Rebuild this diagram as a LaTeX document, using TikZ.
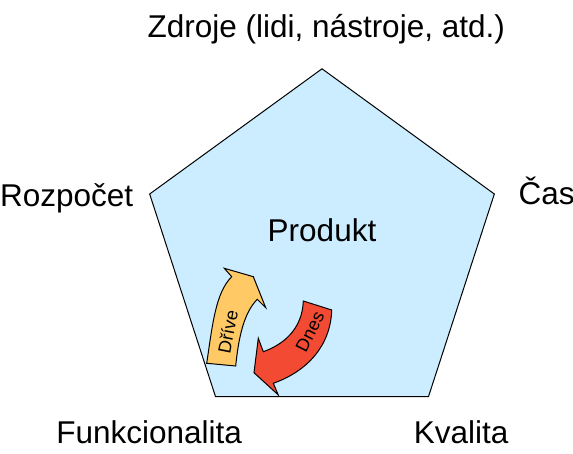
\documentclass[tikz,border=0pt]{standalone}
\usepackage{fontspec}
\setmainfont{Liberation Sans}
\usetikzlibrary{positioning, shapes.geometric}

\definecolor{pentblue}{RGB}{204,236,255}
\definecolor{earlyorange}{RGB}{255,201,102}
\definecolor{nowred}{RGB}{243,75,51}

\begin{document}
\begin{tikzpicture}[x=0.5pt, y=0.5pt,
  lbl/.style={inner sep=0pt, font=\fontsize{15.75}{18}\selectfont},
  arrowtext/.style={inner sep=0pt, font=\fontsize{9}{11}\selectfont}]
\useasboundingbox (0,0) rectangle (573,454);

\node (pent) [draw, line width=0.5pt, fill=pentblue, regular polygon, regular polygon sides=5, minimum size=181.2pt, inner sep=0pt, outer sep=0pt] at (322,204) {};

\node (zdroje) [lbl, above=15.75pt of pent.corner 1, xshift=2.15pt, anchor=base] {Zdroje (lidi, nástroje, atd.)};
\node (rozpocet) [lbl, left=8pt of pent.corner 2, yshift=-6.5pt, anchor=base east] {Rozpočet};
\node (cas) [lbl, right=12pt of pent.corner 5, yshift=-5.5pt, anchor=base west] {Čas};
\node (funkce) [lbl, below=23.5pt of pent.corner 3, xshift=-33.15pt, anchor=base] {Funkcionalita};
\node (kvalita) [lbl, below=23.5pt of pent.corner 4, xshift=16.35pt, anchor=base] {Kvalita};
\node (produkt) [lbl, above=4pt of pent.center, anchor=base] {Produkt};

% Drive arrow
\filldraw[line width=0.5pt, fill=earlyorange] (206.7,90.7) .. controls (212.7,130.7) and (215.7,161.3) .. (231.7,177.3)
  -- (224.3,185.7) -- (253.3,177.3) -- (265.7,146.3) -- (257.3,154.7)
  .. controls (244.3,141.7) and (238.7,118) .. (235.7,88) -- cycle;
\node (drive) [arrowtext, rotate=79] at (227.7,122.3) {Dříve};

% Dnes arrow
\filldraw[line width=0.5pt, fill=nowred] (303.3,153) .. controls (302.3,124) and (282.3,109) .. (263.3,102.3)
  -- (258.3,115.7) -- (254,81.3) -- (278.3,59) -- (273.3,70.7)
  .. controls (308,83) and (330.7,109) .. (331.7,144) -- cycle;
\node (dnes) [arrowtext, rotate=63] at (310,122.3) {Dnes};
\end{tikzpicture}
\end{document}
